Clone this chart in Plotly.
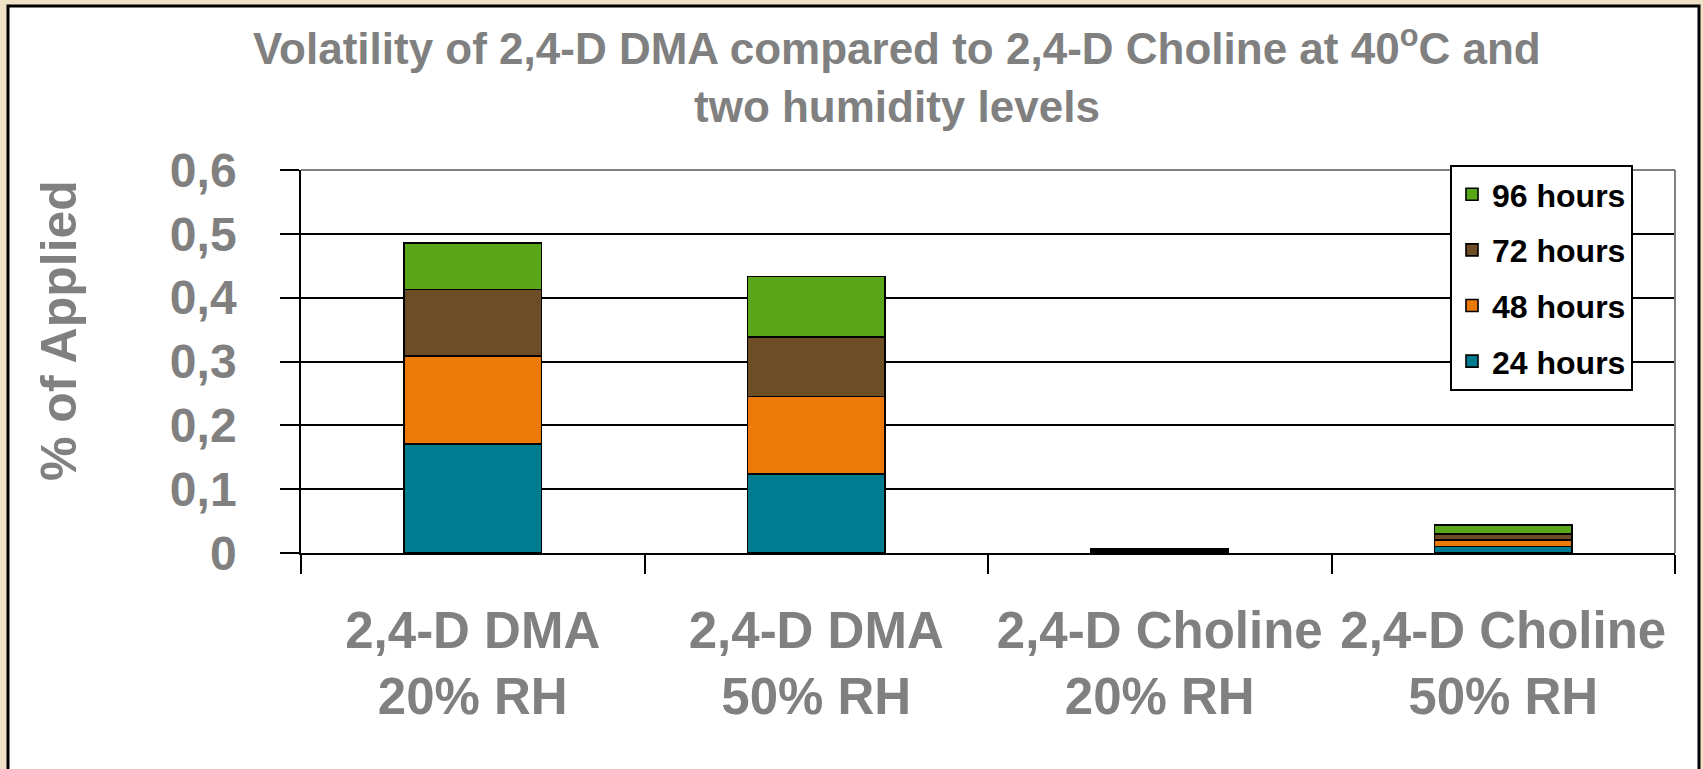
import plotly.graph_objects as go

# ---- data -------------------------------------------------------------
categories = ["2,4-D DMA<br>20% RH", "2,4-D DMA<br>50% RH",
              "2,4-D Choline<br>20% RH", "2,4-D Choline<br>50% RH"]
hours_24 = [0.171, 0.124, 0.0015, 0.0105]
hours_48 = [0.138, 0.121, 0.0015, 0.0095]
hours_72 = [0.104, 0.093, 0.0015, 0.0095]
hours_96 = [0.073, 0.095, 0.0015, 0.0145]
series_names = ["24 hours", "48 hours", "72 hours", "96 hours"]
y_tick_vals = [0, 0.1, 0.2, 0.3, 0.4, 0.5, 0.6]
y_tick_text = ["0", "0,1", "0,2", "0,3", "0,4", "0,5", "0,6"]

# ---- styling ----------------------------------------------------------
W, H = 1703, 769
L, R, T, B = 301, 28, 170, 216
PW, PH = W - L - R, H - T - B
GREY = "#808080"
FONT = "Liberation Sans, Arial, sans-serif"
colors = ["#007B90", "#EC7A08", "#6C4D25", "#5AA619"]


def px_x(px):
    return (px - L) / PW


def px_y(py):
    return (H - B - py) / PH


fig = go.Figure()
for i, (name, vals, col) in enumerate(zip(series_names,
                                          [hours_24, hours_48, hours_72, hours_96],
                                          colors)):
    fig.add_trace(go.Bar(
        x=categories, y=vals, name=name, legendgroup=name,
        legendrank=len(series_names) - i,
        marker=dict(color=col, line=dict(color="black", width=1.6)),
    ))

fig.update_layout(
    width=W, height=H,
    margin=dict(l=L, r=R, t=T, b=B, autoexpand=False),
    paper_bgcolor="#EFE2C6",
    plot_bgcolor="white",
    barmode="stack",
    bargap=0.6,
    showlegend=True,
    legend=dict(
        x=px_x(1450), y=px_y(165), xanchor="left", yanchor="top",
        bgcolor="white", bordercolor="black", borderwidth=2,
        font=dict(family=FONT, size=32, color="black", weight="bold"),
        traceorder="grouped", tracegroupgap=11,
    ),
    xaxis=dict(
        type="category", tickson="boundaries", ticks="outside", ticklen=19,
        tickwidth=1.6, tickcolor="black", showline=True, linecolor="black",
        linewidth=1.6, showgrid=False, tickangle=0, automargin=False,
        tickfont=dict(family=FONT, size=51, color=GREY, weight="bold"),
        ticklabelstandoff=32,
    ),
    yaxis=dict(
        range=[0, 0.6], tickvals=y_tick_vals, ticktext=y_tick_text,
        ticks="outside", ticklen=19, tickwidth=1.6, tickcolor="black",
        showline=True, linecolor="black", linewidth=1.6, automargin=False,
        showgrid=True, gridcolor="black", gridwidth=1.6, zeroline=False,
        tickfont=dict(family=FONT, size=48, color=GREY, weight="bold"),
        ticklabelstandoff=34,
    ),
    shapes=[
        # white chart panel with black frame
        dict(type="rect", xref="paper", yref="paper", layer="below",
             x0=px_x(8), x1=px_x(1699), y0=px_y(790), y1=px_y(6),
             fillcolor="white", line=dict(color="black", width=3)),
        # grey plot-area border (top and right)
        dict(type="line", xref="paper", yref="paper", layer="above",
             x0=0, x1=1, y0=1, y1=1, line=dict(color=GREY, width=2)),
        dict(type="line", xref="paper", yref="paper", layer="above",
             x0=1, x1=1, y0=0, y1=1, line=dict(color=GREY, width=2)),
    ],
    annotations=[
        dict(text="Volatility of 2,4-D DMA compared to 2,4-D Choline at 40<sup>o</sup>C and",
             xref="paper", yref="paper", x=px_x(897), y=px_y(46),
             xanchor="center", yanchor="middle", showarrow=False,
             font=dict(family=FONT, size=44, color=GREY, weight="bold")),
        dict(text="two humidity levels",
             xref="paper", yref="paper", x=px_x(897), y=px_y(107),
             xanchor="center", yanchor="middle", showarrow=False,
             font=dict(family=FONT, size=44, color=GREY, weight="bold")),
        dict(text="% of Applied", textangle=-90,
             xref="paper", yref="paper", x=px_x(59), y=px_y(331),
             xanchor="center", yanchor="middle", showarrow=False,
             font=dict(family=FONT, size=50, color=GREY, weight="bold")),
    ],
)

fig.write_html("out.html")
